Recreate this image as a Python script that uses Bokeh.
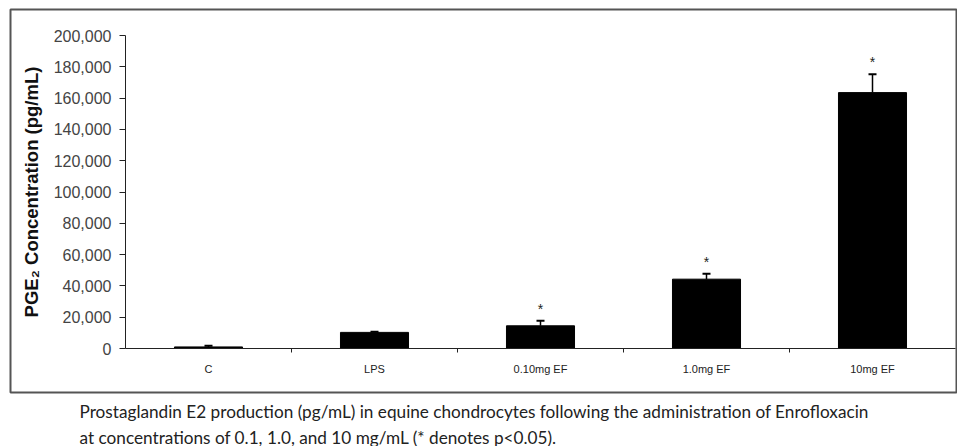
from bokeh.plotting import figure
from bokeh.models import (ColumnDataSource, Range1d, FixedTicker, NumeralTickFormatter,
                          Whisker, TeeHead, Title)
from bokeh.core.properties import value
from bokeh.embed import file_html
from bokeh.resources import INLINE

# ---- data ----
categories = ["C", "LPS", "0.10mg EF", "1.0mg EF", "10mg EF"]
means = [1000, 10300, 14500, 44300, 163500]
errors = [800, 400, 3300, 3400, 11700]
stars = ["", "", "*", "*", "*"]
y_ticks = list(range(0, 200001, 20000))
caption_lines = [
    "Prostaglandin E2  production (pg/mL) in equine chondrocytes following the administration of Enrofloxacin",
    "at concentrations of 0.1, 1.0, and 10 mg/mL (* denotes p<0.05).",
]

# ---- layout geometry (pixels) ----
FRAME_L, FRAME_R, FRAME_T, FRAME_B = 10, 956, 9, 392      # outer box
AX_L, AX_R, AX_T, AX_B = 125, 955, 35, 348                # inner plotting area
YMAX = 200000
n = len(categories)
px_x = (AX_R - AX_L) / n
px_y = (AX_B - AX_T) / YMAX
x_range = Range1d(-(AX_L - FRAME_L) / px_x, n + (FRAME_R - AX_R) / px_x)
y_range = Range1d(-(FRAME_B - AX_B) / px_y, YMAX + (AX_T - FRAME_T) / px_y)

xs = [i + 0.5 for i in range(n)]
uppers = [m + e for m, e in zip(means, errors)]
src = ColumnDataSource(dict(x=xs, mean=means, upper=uppers, star=stars, cat=categories))

p = figure(width=957, height=446, x_range=x_range, y_range=y_range,
           output_backend="svg", toolbar_location=None,
           min_border_left=FRAME_L, min_border_right=957 - FRAME_R, min_border_top=FRAME_T,
           min_border_bottom=446 - FRAME_B)
p.xgrid.visible = False
p.ygrid.visible = False
p.outline_line_color = "#555"
p.outline_line_width = 2
p.background_fill_color = "white"
p.border_fill_color = "white"

p.vbar(x="x", top="mean", bottom=0, width=0.41, source=src, fill_color="black", line_color="black")

w = Whisker(base="x", upper="upper", lower="mean", source=src, line_color="black", line_width=1.5,
            upper_head=TeeHead(size=8, line_width=2, line_color="black"), lower_head=None)
p.add_layout(w)

p.text(x="x", y="upper", text="star", source=src, text_align="center", text_baseline="bottom",
       y_offset=-4, text_font_size="14px", text_font=value("Liberation Sans"), text_color="#222")

# y axis
ya = p.yaxis[0]
ya.fixed_location = 0
ya.bounds = (0, YMAX)
ya.ticker = FixedTicker(ticks=y_ticks, minor_ticks=[])
ya.formatter = NumeralTickFormatter(format="0,0")
ya.major_tick_out = 6
ya.major_tick_in = 0
ya.minor_tick_out = 0
ya.minor_tick_in = 0
ya.axis_line_color = "#222"
ya.major_tick_line_color = "#222"
ya.major_label_text_font = "Liberation Sans"
ya.major_label_text_font_size = "16px"
ya.major_label_text_color = "#444"
ya.major_label_standoff = 8
ya.axis_label = "PGE\u2082 Concentration (pg/mL)"
ya.axis_label_text_font = "Liberation Sans"
ya.axis_label_text_font_style = "bold"
ya.axis_label_text_font_size = "18.5px"
ya.axis_label_text_color = "#111"
ya.axis_label_standoff = 9

# x axis
xa = p.xaxis[0]
xa.fixed_location = 0
xa.bounds = (0, n)
xa.ticker = FixedTicker(ticks=xs, minor_ticks=[i for i in range(1, n)])
xa.major_label_overrides = {x: c for x, c in zip(xs, categories)}
xa.major_tick_out = 0
xa.major_tick_in = 0
xa.minor_tick_out = 4
xa.minor_tick_in = 0
xa.axis_line_color = "#222"
xa.minor_tick_line_color = "#222"
xa.major_label_text_font = "Liberation Sans"
xa.major_label_text_font_size = "11px"
xa.major_label_text_color = "#222"
xa.major_label_standoff = 10

# caption lines
for i, line in enumerate(caption_lines):
    t = Title(text=line, align="left", offset=69, text_font="Lato", text_font_size="17.2px",
              text_font_style="normal", text_color="#222", standoff=(13 if i == 0 else -8))
    p.add_layout(t, "below")

open("out.html", "w").write(file_html(p, INLINE))
